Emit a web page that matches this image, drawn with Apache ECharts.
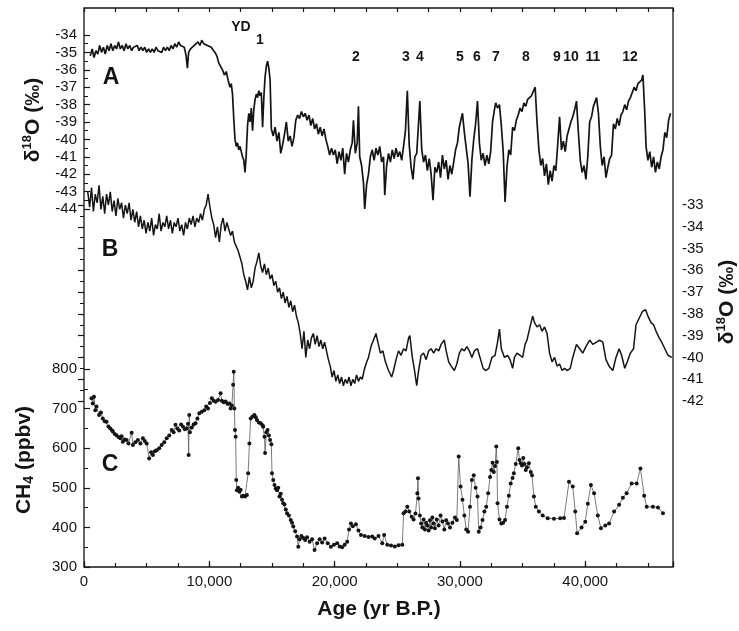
<!DOCTYPE html>
<html>
<head>
<meta charset="utf-8">
<script src="https://cdn.jsdelivr.net/npm/echarts@6/dist/echarts.min.js"></script>
<style>
  html, body { margin: 0; padding: 0; background: #fff; }
  #chart { width: 739px; height: 631px; }
</style>
</head>
<body>
<div id="chart"></div>
<script>
// Greenland ice core oxygen isotopes, [age yr B.P., d18O permil]
const greenlandD18O = [
  [500,-35.2],[650,-34.8],[800,-35.3],[950,-34.9],[1100,-35.1],[1250,-34.6],[1400,-35.0],[1550,-34.7],[1700,-35.1],[1850,-34.6],
  [2000,-34.9],[2150,-34.5],[2300,-34.9],[2450,-34.6],[2600,-34.8],[2750,-34.4],[2900,-34.8],[3050,-34.6],[3200,-34.9],[3350,-34.5],
  [3500,-34.8],[3650,-34.6],[3800,-34.9],[3950,-34.7],[4100,-34.8],[4250,-34.6],[4400,-34.9],[4550,-34.7],[4700,-34.9],[4850,-34.7],
  [5000,-35.0],[5150,-34.8],[5300,-35.0],[5450,-34.8],[5600,-35.0],[5750,-34.7],[5900,-34.9],[6050,-34.8],[6200,-35.0],[6350,-34.7],
  [6500,-34.9],[6650,-34.7],[6800,-34.9],[6950,-34.6],[7100,-34.8],[7250,-34.5],[7400,-34.7],[7550,-34.4],[7700,-34.6],[7850,-34.5],
  [8000,-34.7],[8150,-35.2],[8250,-35.9],[8350,-35.0],[8500,-34.8],[8650,-34.9],[8800,-34.6],[8950,-34.7],[9100,-34.4],[9250,-34.6],
  [9400,-34.3],[9550,-34.5],[9700,-34.4],[9850,-34.6],[10000,-34.5],[10150,-34.7],[10300,-34.8],[10450,-35.0],[10600,-35.2],[10750,-35.6],
  [10900,-35.5],[11050,-36.0],[11200,-36.3],[11350,-36.1],[11500,-36.6],[11650,-37.0],[11750,-36.8],[11850,-37.4],[11950,-38.8],[12050,-40.0],
  [12150,-40.4],[12250,-40.2],[12350,-40.6],[12450,-40.4],[12550,-40.7],[12650,-41.0],[12750,-41.2],[12850,-41.9],[12950,-40.8],[13050,-39.2],
  [13150,-38.5],[13250,-39.0],[13350,-38.2],[13450,-39.5],[13550,-38.3],[13650,-37.7],[13750,-37.4],[13850,-37.6],[13950,-37.2],[14050,-37.5],
  [14150,-37.3],[14250,-39.3],[14350,-37.6],[14450,-36.4],[14550,-35.8],[14650,-35.5],[14750,-35.9],[14850,-36.6],[14950,-39.4],[15100,-39.8],
  [15250,-39.3],[15400,-40.1],[15550,-39.6],[15700,-40.8],[15850,-40.3],[16000,-39.7],[16150,-39.0],[16300,-40.1],[16450,-39.8],[16600,-40.4],
  [16750,-39.9],[16900,-38.9],[17050,-38.6],[17200,-38.8],[17350,-38.4],[17500,-38.7],[17650,-38.5],[17800,-38.9],[17950,-38.6],[18100,-39.2],
  [18250,-38.8],[18400,-39.4],[18550,-39.1],[18700,-39.7],[18850,-39.3],[19000,-39.8],[19150,-39.4],[19300,-40.0],[19450,-40.4],[19600,-40.9],
  [19750,-40.5],[19900,-40.9],[20050,-40.6],[20200,-41.4],[20350,-40.7],[20500,-41.2],[20650,-40.5],[20800,-42.0],[20950,-40.8],[21100,-41.3],
  [21250,-40.6],[21400,-40.2],[21500,-38.9],[21650,-40.8],[21800,-40.2],[21900,-38.1],[22000,-41.0],[22150,-41.5],[22300,-42.5],[22400,-44.0],
  [22550,-42.6],[22700,-42.0],[22850,-41.0],[23000,-40.6],[23150,-41.2],[23300,-40.5],[23450,-40.9],[23600,-40.4],[23750,-41.3],[23900,-41.0],
  [24000,-43.2],[24150,-41.5],[24300,-40.8],[24450,-41.3],[24600,-40.6],[24750,-41.1],[24900,-40.5],[25050,-41.0],[25200,-40.7],[25350,-41.2],
  [25500,-40.4],[25650,-39.5],[25800,-37.2],[25950,-40.3],[26100,-41.6],[26250,-42.3],[26400,-41.0],[26550,-40.8],[26700,-39.0],[26800,-37.8],
  [26950,-40.6],[27100,-41.3],[27250,-40.9],[27400,-41.8],[27550,-41.1],[27700,-42.0],[27850,-43.5],[28000,-41.6],[28150,-41.9],[28300,-41.3],
  [28450,-42.2],[28600,-40.9],[28750,-41.7],[28900,-41.2],[29050,-42.3],[29200,-41.5],[29350,-42.0],[29500,-41.3],[29650,-40.6],[29800,-40.2],
  [29950,-39.3],[30100,-38.8],[30200,-38.5],[30350,-39.6],[30500,-40.5],[30650,-41.4],[30800,-43.3],[30950,-41.2],[31100,-40.0],[31250,-39.1],
  [31400,-37.8],[31550,-40.2],[31700,-41.2],[31850,-40.8],[32000,-41.5],[32150,-40.9],[32300,-41.4],[32450,-40.7],[32600,-39.0],[32750,-38.3],
  [32850,-37.9],[33000,-38.2],[33150,-38.0],[33300,-39.2],[33450,-40.7],[33600,-43.6],[33750,-41.6],[33900,-40.6],[34050,-40.9],[34200,-39.3],
  [34350,-39.5],[34500,-38.9],[34650,-38.6],[34800,-38.2],[34950,-38.4],[35100,-37.9],[35250,-38.1],[35400,-37.7],[35550,-37.8],[35700,-37.5],
  [35850,-37.4],[36000,-37.0],[36150,-39.0],[36300,-40.6],[36450,-41.5],[36600,-41.1],[36750,-42.1],[36900,-41.4],[37050,-42.6],[37200,-41.8],
  [37350,-42.4],[37500,-41.5],[37650,-41.8],[37800,-40.3],[37950,-38.7],[38100,-40.6],[38250,-40.1],[38400,-40.7],[38550,-39.8],[38700,-39.4],
  [38850,-39.0],[39000,-38.7],[39150,-38.3],[39300,-37.8],[39450,-39.6],[39600,-41.2],[39750,-41.9],[39900,-41.5],[40050,-42.3],[40200,-41.0],
  [40350,-39.0],[40500,-38.7],[40650,-38.1],[40800,-37.8],[40900,-37.6],[41050,-38.5],[41200,-40.4],[41350,-41.5],[41500,-41.0],[41650,-42.2],
  [41800,-41.6],[41950,-41.1],[42100,-40.9],[42250,-39.1],[42400,-39.4],[42550,-38.8],[42700,-39.2],[42850,-38.6],[43000,-38.4],[43150,-38.0],
  [43300,-38.3],[43450,-37.8],[43600,-37.6],[43750,-37.3],[43900,-37.0],[44050,-37.2],[44200,-36.8],[44350,-36.9],[44500,-36.6],[44600,-36.3],
  [44750,-38.5],[44850,-40.4],[45000,-41.2],[45150,-40.7],[45300,-41.6],[45450,-41.0],[45600,-41.9],[45750,-41.3],[45900,-41.7],[46050,-41.0],
  [46200,-40.6],[46350,-39.6],[46500,-39.9],[46650,-38.9],[46800,-38.5]
];

// Antarctic ice core oxygen isotopes, [age yr B.P., d18O permil]
const antarcticD18O = [
  [300,-32.4],[450,-33.1],[600,-32.2],[750,-33.3],[900,-32.5],[1050,-32.9],[1200,-32.1],[1350,-33.2],[1500,-32.6],[1650,-33.4],
  [1800,-32.5],[1950,-33.0],[2100,-32.4],[2250,-33.3],[2400,-32.8],[2550,-33.5],[2700,-32.7],[2850,-33.2],[3000,-32.9],[3150,-33.6],
  [3300,-33.0],[3450,-33.4],[3600,-32.9],[3750,-33.7],[3900,-33.2],[4050,-33.8],[4200,-33.3],[4350,-34.0],[4500,-33.5],[4650,-34.1],
  [4800,-33.7],[4950,-34.3],[5100,-33.8],[5250,-34.2],[5400,-33.6],[5550,-34.4],[5700,-33.9],[5850,-34.1],[6000,-33.4],[6150,-34.2],
  [6300,-33.8],[6450,-34.0],[6600,-33.5],[6750,-34.1],[6900,-33.7],[7050,-34.3],[7200,-33.8],[7350,-34.0],[7500,-33.6],[7650,-34.2],
  [7800,-33.9],[7950,-34.4],[8100,-33.8],[8250,-34.1],[8400,-33.6],[8550,-33.9],[8700,-33.5],[8850,-34.0],[9000,-33.6],[9150,-33.8],
  [9300,-33.4],[9450,-33.7],[9600,-33.2],[9750,-33.0],[9900,-32.5],[10050,-33.1],[10200,-33.6],[10350,-33.9],[10500,-34.5],[10650,-34.0],
  [10800,-34.7],[10950,-33.9],[11100,-33.6],[11250,-34.2],[11400,-33.8],[11550,-34.1],[11700,-34.4],[11850,-34.2],[12000,-34.7],[12150,-34.9],
  [12300,-35.1],[12450,-35.4],[12600,-35.7],[12750,-36.2],[12900,-36.5],[13050,-36.9],[13200,-36.3],[13350,-36.8],[13500,-36.5],[13650,-35.9],
  [13800,-35.6],[13950,-35.2],[14100,-35.8],[14250,-36.1],[14400,-35.7],[14550,-36.2],[14700,-35.9],[14850,-36.4],[15000,-36.2],[15150,-36.7],
  [15300,-36.5],[15450,-37.0],[15600,-36.8],[15750,-37.3],[15900,-37.0],[16050,-37.5],[16200,-37.2],[16350,-37.7],[16500,-37.4],[16650,-37.9],
  [16800,-37.6],[16950,-38.1],[17100,-38.4],[17250,-38.9],[17400,-39.6],[17550,-38.8],[17700,-40.0],[17850,-39.2],[18000,-39.6],[18150,-39.1],
  [18300,-38.9],[18450,-39.4],[18600,-39.0],[18750,-39.5],[18900,-39.2],[19050,-39.6],[19200,-39.3],[19350,-39.7],[19500,-40.1],[19650,-40.4],
  [19800,-40.9],[19950,-40.6],[20100,-41.1],[20250,-40.8],[20400,-41.2],[20550,-40.9],[20700,-41.3],[20850,-41.0],[21000,-41.2],[21150,-40.9],
  [21300,-41.3],[21450,-41.0],[21600,-41.2],[21750,-40.8],[21900,-41.1],[22050,-40.9],[22200,-41.0],[22350,-40.6],[22500,-40.3],[22700,-40.0],
  [22900,-39.5],[23100,-39.2],[23300,-38.9],[23450,-39.3],[23650,-39.8],[23850,-39.7],[24050,-40.2],[24300,-40.6],[24550,-40.9],[24700,-40.6],
  [24900,-40.1],[25100,-39.7],[25300,-39.9],[25500,-39.6],[25700,-39.7],[25900,-39.1],[26000,-39.0],[26200,-40.0],[26350,-40.5],[26550,-41.3],
  [26700,-40.6],[26900,-39.9],[27100,-39.8],[27300,-40.1],[27500,-39.7],[27700,-39.6],[27900,-39.8],[28100,-39.6],[28300,-39.7],[28500,-39.4],
  [28750,-39.2],[28900,-39.7],[29100,-40.2],[29300,-40.4],[29550,-40.6],[29750,-40.3],[29950,-39.8],[30150,-39.6],[30350,-39.7],[30550,-39.5],
  [30750,-39.7],[30950,-40.0],[31150,-39.7],[31400,-39.6],[31650,-40.1],[31850,-40.5],[32050,-40.6],[32300,-40.5],[32550,-40.0],[32800,-39.9],
  [33000,-39.3],[33150,-38.7],[33300,-39.6],[33550,-40.0],[33800,-39.9],[34000,-40.1],[34200,-40.5],[34350,-40.0],[34550,-39.8],[34800,-39.9],
  [35000,-40.0],[35200,-39.4],[35350,-39.2],[35550,-38.7],[35800,-38.1],[35950,-38.4],[36150,-38.6],[36350,-38.5],[36550,-38.8],[36750,-38.6],
  [36950,-38.9],[37150,-39.8],[37350,-40.2],[37550,-40.0],[37750,-40.4],[37950,-40.3],[38150,-40.6],[38350,-40.5],[38550,-40.6],[38800,-40.5],
  [39000,-40.0],[39300,-39.4],[39550,-39.6],[39800,-39.8],[40050,-39.5],[40350,-39.2],[40600,-39.4],[40900,-39.3],[41150,-39.2],[41400,-39.3],
  [41650,-40.1],[41900,-40.4],[42200,-40.6],[42450,-40.0],[42700,-39.6],[42900,-39.9],[43150,-40.5],[43350,-40.2],[43600,-39.8],[43850,-39.6],
  [44050,-38.5],[44300,-38.2],[44550,-37.9],[44800,-37.8],[45000,-38.1],[45250,-38.4],[45450,-38.5],[45650,-38.8],[45900,-39.1],[46100,-39.3],
  [46350,-39.6],[46600,-39.9],[46900,-40.0]
];

// Atmospheric methane from trapped air, [age yr B.P., CH4 ppbv]
const methaneCH4 = [
  [600,726],[700,713],[800,730],[900,696],[1000,705],[1200,684],[1350,690],[1500,675],[1650,668],[1800,667],
  [1950,655],[2100,650],[2250,645],[2300,642],[2450,636],[2600,633],[2750,628],[2900,625],[3000,630],[3100,616],
  [3250,622],[3400,621],[3550,612],[3800,639],[3900,608],[4100,615],[4300,621],[4500,612],[4700,625],[4850,618],
  [5000,612],[5200,574],[5350,590],[5500,583],[5650,592],[5800,595],[6000,600],[6200,608],[6400,615],[6600,625],
  [6800,632],[7000,646],[7150,640],[7300,659],[7450,650],[7600,645],[7750,660],[7900,654],[8050,648],[8200,650],
  [8300,662],[8350,583],[8400,684],[8450,640],[8600,652],[8750,660],[8900,663],[9050,675],[9200,688],[9400,692],
  [9600,696],[9750,705],[9900,700],[10050,714],[10200,726],[10350,720],[10500,717],[10700,722],[10900,739],[11000,720],
  [11150,716],[11300,718],[11450,712],[11600,713],[11700,700],[11800,708],[11900,760],[11950,793],[12000,700],[12050,646],
  [12100,629],[12150,520],[12200,494],[12300,500],[12400,490],[12500,495],[12600,478],[12700,480],[12850,478],[13000,482],
  [13100,537],[13200,612],[13300,675],[13450,680],[13600,684],[13700,678],[13800,671],[13950,665],[14100,663],[14250,658],
  [14300,654],[14400,629],[14450,588],[14550,640],[14650,646],[14750,632],[14850,621],[14950,610],[15000,537],[15100,520],
  [15200,507],[15300,498],[15400,494],[15500,500],[15600,478],[15700,485],[15800,470],[15900,461],[16000,458],[16100,445],
  [16200,436],[16350,430],[16500,419],[16600,412],[16700,402],[16850,390],[17000,377],[17100,351],[17200,370],[17350,378],
  [17500,373],[17650,368],[17800,375],[18000,364],[18200,370],[18400,343],[18600,360],[18800,370],[19000,362],[19200,372],
  [19450,360],[19700,351],[19950,356],[20200,360],[20400,352],[20600,350],[20800,356],[21000,364],[21150,395],[21300,410],
  [21450,403],[21700,408],[21900,392],[22100,381],[22400,378],[22700,376],[23000,377],[23200,372],[23500,378],[23800,360],
  [23950,381],[24200,356],[24500,354],[24800,352],[25100,355],[25400,356],[25500,436],[25650,440],[25800,452],[25950,440],
  [26150,427],[26300,420],[26450,435],[26600,486],[26650,524],[26700,473],[26800,430],[26900,410],[27000,400],[27100,420],
  [27200,395],[27300,412],[27400,405],[27500,392],[27600,418],[27700,400],[27800,425],[27900,410],[28000,398],[28150,420],
  [28300,405],[28450,430],[28600,415],[28750,395],[28900,418],[29050,410],[29200,400],[29400,412],[29600,425],[29750,419],
  [29900,579],[30050,503],[30200,470],[30350,430],[30500,395],[30650,389],[30800,452],[30950,520],[31100,532],[31250,500],
  [31400,478],[31500,389],[31650,400],[31800,419],[31950,440],[32100,452],[32250,486],[32400,527],[32500,545],[32600,563],
  [32700,540],[32800,555],[32900,604],[32950,565],[33000,461],[33150,420],[33300,410],[33450,412],[33600,419],[33750,452],
  [33900,480],[34050,511],[34200,525],[34300,537],[34450,560],[34650,600],[34750,570],[34850,562],[34950,556],[35050,575],
  [35150,560],[35250,545],[35350,552],[35500,562],[35650,540],[35750,532],[35900,478],[36050,452],[36300,440],[36600,430],
  [37000,423],[37500,422],[38000,423],[38300,424],[38700,515],[39000,503],[39200,440],[39350,385],[39700,400],[40000,414],
  [40200,460],[40450,507],[40700,486],[41000,430],[41250,398],[41600,405],[41900,410],[42300,440],[42700,457],[43000,475],
  [43300,486],[43700,511],[44100,511],[44400,549],[44700,480],[44900,452],[45400,452],[45800,450],[46200,436]
];

// Stage labels above the Greenland record
const eventLabels = ['YD', '1', '2', '3', '4', '5', '6', '7', '8', '9', '10', '11', '12'];
const eventX = [241, 260, 356, 406, 420, 460, 477, 496, 526, 557, 571, 593, 630];
const eventY = [27, 40, 57, 57, 57, 57, 57, 57, 57, 57, 57, 57, 57];

const AGE_MAX = 47000;
const FONT = "'Liberation Sans', Arial, Helvetica, sans-serif";
const INK = '#141414';

function thousands(v) {
  return String(v).replace(/\B(?=(\d{3})+(?!\d))/g, ',');
}

const tickLabel = { color: INK, fontFamily: FONT, fontSize: 15 };
const hiddenX = (grid) => ({ type: 'value', gridIndex: grid, min: 0, max: AGE_MAX, show: false });

const chart = echarts.init(document.getElementById('chart'), null, { renderer: 'canvas' });

const graphics = [];
eventLabels.forEach((t, i) => {
  graphics.push({
    type: 'text', x: eventX[i], y: eventY[i],
    style: { text: t, fill: INK, font: 'bold 14px ' + FONT, align: 'center', verticalAlign: 'middle' }
  });
});
[['A', 111, 78], ['B', 110, 250], ['C', 110, 465]].forEach(([t, x, y]) => {
  graphics.push({
    type: 'text', x, y,
    style: { text: t, fill: INK, font: 'bold 23px ' + FONT, align: 'center', verticalAlign: 'middle' }
  });
});

const nameRich = {
  a: { fontFamily: FONT, fontWeight: 'bold', fontSize: 21, lineHeight: 24, fill: INK },
  s: { fontFamily: FONT, fontWeight: 'bold', fontSize: 13, lineHeight: 13, verticalAlign: 'top', fill: INK },
  b: { fontFamily: FONT, fontWeight: 'bold', fontSize: 14, lineHeight: 14, verticalAlign: 'bottom', fill: INK }
};
graphics.push(
  { type: 'text', x: 33, y: 120, rotation: Math.PI / 2,
    style: { text: '{a|\u03B4}{s|18}{a|O (\u2030)}', rich: nameRich, align: 'center', verticalAlign: 'middle' } },
  { type: 'text', x: 727, y: 302, rotation: Math.PI / 2,
    style: { text: '{a|\u03B4}{s|18}{a|O (\u2030)}', rich: nameRich, align: 'center', verticalAlign: 'middle' } },
  { type: 'text', x: 24, y: 460, rotation: Math.PI / 2,
    style: { text: '{a|CH}{b|4}{a| (ppbv)}', rich: nameRich, align: 'center', verticalAlign: 'middle' } },
  { type: 'text', x: 379, y: 609,
    style: { text: 'Age (yr B.P.)', fill: INK, font: 'bold 21px ' + FONT, align: 'center', verticalAlign: 'middle' } }
);

const option = {
  backgroundColor: '#ffffff',
  animation: false,
  grid: [
    { left: 84, right: 66, top: 8, bottom: 64, show: true, borderColor: INK, borderWidth: 1.3, backgroundColor: 'transparent' },
    { left: 84, right: 66, top: 35, height: 174 },
    { left: 84, right: 66, top: 205, height: 196 },
    { left: 84, right: 66, top: 369, height: 198 }
  ],
  xAxis: [
    { type: 'value', gridIndex: 0, position: 'bottom', min: 0, max: AGE_MAX, interval: 10000,
      axisLine: { show: false }, splitLine: { show: false },
      axisTick: { inside: true, length: 6, lineStyle: { color: INK, width: 1.2 } },
      axisLabel: { ...tickLabel, margin: 7, formatter: v => (v % 10000 === 0 ? thousands(v) : '') } },
    { type: 'value', gridIndex: 0, position: 'top', min: 0, max: AGE_MAX, interval: 2500,
      axisLine: { show: false }, splitLine: { show: false }, axisLabel: { show: false },
      axisTick: { inside: true, length: 4, lineStyle: { color: INK, width: 1.2 } } },
    { type: 'value', gridIndex: 3, position: 'bottom', min: 0, max: AGE_MAX, interval: 2500,
      axisLine: { show: false }, splitLine: { show: false }, axisLabel: { show: false },
      axisTick: { inside: true, length: 4, lineStyle: { color: INK, width: 1.2 } } },
    hiddenX(1),
    hiddenX(2)
  ],
  yAxis: [
    { type: 'value', gridIndex: 0, min: 0, max: 1, show: false },
    { type: 'value', gridIndex: 1, position: 'left', min: -44, max: -34, interval: 1,
      axisLine: { show: false }, splitLine: { show: false },
      axisTick: { inside: true, length: 6, lineStyle: { color: INK, width: 1.2 } },
      minorTick: { show: true, splitNumber: 2, length: 4, lineStyle: { color: INK, width: 1 } },
      axisLabel: { ...tickLabel, margin: 7 } },
    { type: 'value', gridIndex: 2, position: 'right', min: -42, max: -33, interval: 1,
      axisLine: { show: false }, splitLine: { show: false },
      axisTick: { inside: true, length: 6, lineStyle: { color: INK, width: 1.2 } },
      minorTick: { show: true, splitNumber: 2, length: 4, lineStyle: { color: INK, width: 1 } },
      axisLabel: { ...tickLabel, margin: 9 } },
    { type: 'value', gridIndex: 3, position: 'left', min: 300, max: 800, interval: 100,
      axisLine: { show: false }, splitLine: { show: false },
      axisTick: { inside: true, length: 6, lineStyle: { color: INK, width: 1.2 } },
      minorTick: { show: true, splitNumber: 2, length: 4, lineStyle: { color: INK, width: 1 } },
      axisLabel: { ...tickLabel, margin: 7 } }
  ],
  series: [
    { name: 'Greenland', type: 'line', xAxisIndex: 3, yAxisIndex: 1, data: greenlandD18O,
      showSymbol: false, clip: false, lineStyle: { color: INK, width: 1.7 } },
    { name: 'Antarctica', type: 'line', xAxisIndex: 4, yAxisIndex: 2, data: antarcticD18O,
      showSymbol: false, clip: false, lineStyle: { color: INK, width: 1.5 } },
    { name: 'CH4', type: 'line', xAxisIndex: 2, yAxisIndex: 3, data: methaneCH4,
      symbol: 'circle', symbolSize: 4, showAllSymbol: true, clip: false,
      itemStyle: { color: INK }, lineStyle: { color: '#5a5a5a', width: 0.8 } }
  ],
  graphic: graphics
};

chart.setOption(option);
</script>
</body>
</html>
